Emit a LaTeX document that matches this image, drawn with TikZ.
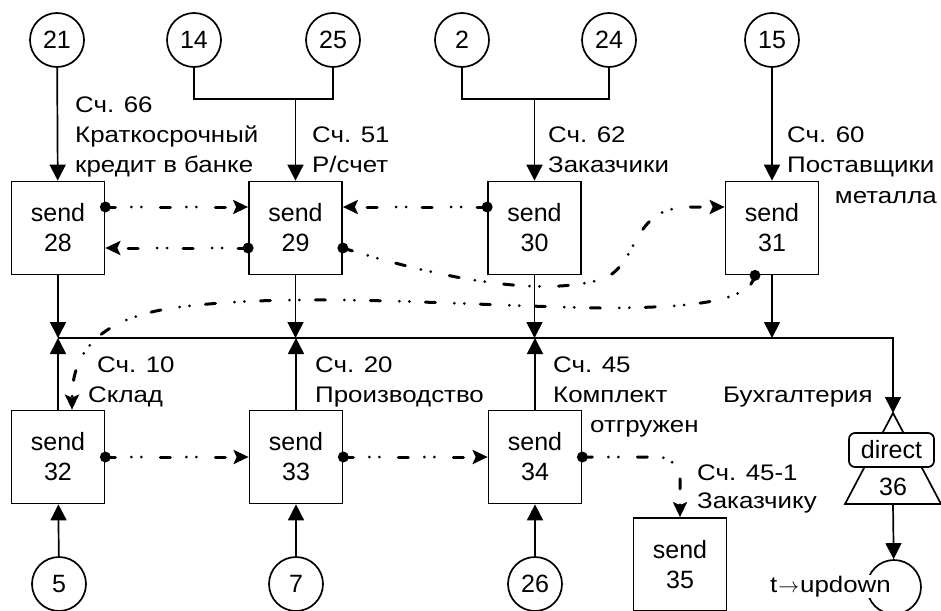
\documentclass[tikz,border=0pt]{standalone}
\usepackage{fontspec}
\setmainfont{Liberation Sans}
\usetikzlibrary{arrows.meta,calc}

\begin{document}
\begin{tikzpicture}[x=1pt,y=-1pt,
  boxfont/.style={font=\fontsize{25}{30}\selectfont},
  lblfont/.style={font=\fontsize{22.5}{30}\selectfont\addfontfeature{FakeStretch=1.15}},
  box/.style={draw, line width=1.7pt, minimum width=93pt, minimum height=93pt,
    align=center, inner sep=0pt, boxfont},
  src/.style={draw, circle, line width=1.7pt, minimum size=54pt, inner sep=0pt, boxfont},
  wire/.style={line width=1.7pt},
  flow/.style={wire, -{Triangle[length=16pt,width=16pt]}},
  msg/.style={line width=3pt, line cap=round,
    dash pattern=on 10pt off 16pt on 0pt off 10pt on 0pt off 19pt,
    -{Stealth[length=15pt,width=14pt,inset=3pt,line cap=butt]}},
  lbl/.style={anchor=base west, inner sep=0pt, lblfont},
  lblr/.style={anchor=base east, inner sep=0pt, lblfont},
]
\useasboundingbox (0,0) rectangle (941,610);

% source circles, top row
\node[src] (c21) at (57,40)  {21};
\node[src] (c14) at (194,40) {14};
\node[src] (c25) at (333,40) {25};
\node[src] (c2)  at (462,40) {2};
\node[src] (c24) at (609,40) {24};
\node[src] (c15) at (772,40) {15};

% send blocks, upper row
\node[box] (b28) at (58,228)    {send\\28};
\node[box] (b29) at (295.5,228) {send\\29};
\node[box] (b30) at (534.5,228) {send\\30};
\node[box] (b31) at (772,228)   {send\\31};

% send blocks, lower row
\node[box] (b32) at (58,457)    {send\\32};
\node[box] (b33) at (296,457)   {send\\33};
\node[box] (b34) at (535,457)   {send\\34};
\node[box] (b35) at (680,564.5) {send\\35};

% source circles, bottom row
\node[src] (c5)  at (59,584)  {5};
\node[src] (c7)  at (296,584) {7};
\node[src] (c26) at (535,584) {26};
\node[src] (cT)  at (894,587) {};

% direct block 36
\coordinate (d36top) at (893,413);
\coordinate (d36base) at (893,504);
\draw[wire, fill=white] (d36top) -- (845,504) -- (941,504) -- cycle;
\node[draw, line width=1.7pt, rounded corners=6pt, fill=white, minimum width=85pt,
  minimum height=34pt, inner sep=0pt, boxfont] (dir) at (891.5,450) {direct};
\node[inner sep=0pt, boxfont] (n36) at (893,487) {36};

% junctions and bus
\coordinate (j29) at (295.5,99);
\coordinate (j30) at (534.5,99);
\coordinate (busL) at (58,338);
\coordinate (busR) at (893,338);

\draw[flow] (c21) -- (b28);
\draw[wire] (c14) |- (j29) -| (c25);
\draw[flow] (j29) -- (b29);
\draw[wire] (c2) |- (j30) -| (c24);
\draw[flow] (j30) -- (b30);
\draw[flow] (c15) -- (b31);

\draw[flow] (busL) -- (busR) -- (d36top);
\foreach \b in {b28,b29,b30,b31} \draw[flow] (\b) -- (\b |- busL);
\foreach \b in {b32,b33,b34} \draw[flow] (\b) -- (\b |- busL);

\draw[flow] (c5) -- (b32);
\draw[flow] (c7) -- (b33);
\draw[flow] (c26) -- (b34);
\draw[flow] (d36base) -- (cT);

% message links
\coordinate (p28a) at ([yshift=21pt]b28.east);
\coordinate (p29a) at ([yshift=-20pt]b29.west);
\coordinate (p29b) at ([yshift=-20pt]b29.east);
\coordinate (p30a) at ([yshift=21pt]b30.west);
\coordinate (p31a) at ([yshift=21pt]b31.west);
\coordinate (p31s) at ([xshift=-17pt]b31.south);
\coordinate (p32t) at ([xshift=14pt]b32.north);

\draw[msg] (p28a) -- (p28a -| b29.west);
\draw[msg] (p29a) -- (p29a -| b28.east);
\draw[msg] (p30a) -- (p30a -| b29.east);
\draw[msg] (p29b) .. controls (430,275) and (540,300) .. (605,278)
  .. controls (640,262) and (630,207) .. (690,207) -- (p31a);
\draw[msg] (p31s) .. controls (750,300) and (700,308) .. (600,308)
  .. controls (450,305) and (300,292) .. (180,307)
  .. controls (90,318) and (72,360) .. (p32t);
\draw[msg] (b32.east) -- (b33.west);
\draw[msg] (b33.east) -- (b34.west);
\draw[msg, rounded corners=22pt] (b34.east) -| (b35.north);

\foreach \p in {p28a,p29a,p29b,p30a,p31s,b32.east,b33.east,b34.east}
  \fill (\p) circle (5.5pt);

% account labels
\node[lbl] (l66a) at (75,112) {Сч. 66};
\node[lbl] (l66b) at (75,142) {Краткосрочный};
\node[lbl] (l66c) at (75,172) {кредит в банке};
\node[lbl] (l51a) at (312,142) {Сч. 51};
\node[lbl] (l51b) at (312,172) {Р/счет};
\node[lbl] (l62a) at (548,142) {Сч. 62};
\node[lbl] (l62b) at (548,172) {Заказчики};
\node[lbl] (l60a) at (787,142) {Сч. 60};
\node[lbl] (l60b) at (787,172) {Поставщики};
\node[lblr] (l60c) at (937,203) {металла};
\node[lbl] (l10a) at (97,372) {Сч. 10};
\node[lbl] (l10b) at (88,402) {Склад};
\node[lbl] (l20a) at (315,372) {Сч. 20};
\node[lbl] (l20b) at (315,402) {Производство};
\node[lbl] (l45a) at (553,372) {Сч. 45};
\node[lbl] (l45b) at (553,402) {Комплект};
\node[lbl] (l45c) at (590,432) {отгружен};
\node[lbl] (l451a) at (697,480) {Сч. 45-1};
\node[lbl] (l451b) at (697,508) {Заказчику};
\node[lbl] (lbuh) at (723,402) {Бухгалтерия};
\node[anchor=base east, fill=white, inner sep=1pt, lblfont] (lt) at (892,592)
  {t\kern1pt$\rightarrow$\kern1pt updown};
\end{tikzpicture}
\end{document}
